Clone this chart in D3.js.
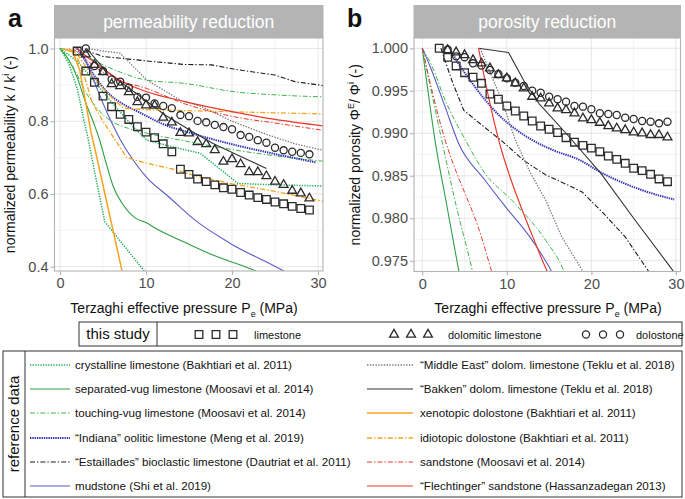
<!DOCTYPE html>
<html><head><meta charset="utf-8">
<script src="https://cdn.jsdelivr.net/npm/d3@7"></script>
<style>
html,body{margin:0;padding:0;background:#fff;}
svg{display:block;font-family:"Liberation Sans",Arial,sans-serif;}
</style></head><body>
<svg id="chart" width="685" height="499"></svg>
<script>
// ---------------- DATA ----------------
// this study, panel a (permeability k/k^i)
const pressLime = [2,3,4,5,6,7,8,9,10,11,12,13,14,15,16,17,18,19,20,21,22,23,24,25,26,27,28,29];
const permLime = [0.993,0.938,0.907,0.869,0.840,0.819,0.805,0.785,0.770,0.755,0.738,0.716,0.668,0.654,0.641,0.634,0.625,0.617,0.613,0.604,0.597,0.590,0.585,0.578,0.573,0.566,0.560,0.556];
const pressDolLime = [3,4,5,6,7,8,9,10,11,12,13,14,15,16,17,18,19,20,21,22,23,24,25,26,27,28,29];
const permDolLime = [0.984,0.955,0.935,0.902,0.897,0.880,0.853,0.844,0.843,0.810,0.797,0.768,0.767,0.743,0.737,0.721,0.689,0.696,0.682,0.660,0.660,0.649,0.634,0.625,0.609,0.602,0.588];
const pressDolo = [3,4,5,6,7,8,9,10,11,12,13,14,15,16,17,18,19,20,21,22,23,24,25,26,27,28,29];
const permDolo = [1.000,0.952,0.938,0.915,0.909,0.892,0.867,0.865,0.849,0.842,0.836,0.817,0.814,0.801,0.797,0.790,0.784,0.778,0.762,0.757,0.748,0.741,0.727,0.720,0.716,0.713,0.709];
// this study, panel b (porosity)
const poroLime = [1.0000,0.99894,0.99792,0.99713,0.99659,0.99588,0.99462,0.99400,0.99321,0.99262,0.99203,0.99144,0.99085,0.99047,0.99007,0.98948,0.98895,0.98857,0.98825,0.98783,0.98732,0.98693,0.98646,0.98588,0.98560,0.98517,0.98462,0.98430];
const poroDolLime = [0.9998,0.99953,0.99921,0.99862,0.99823,0.99765,0.99686,0.99647,0.99588,0.99529,0.99430,0.99411,0.99353,0.99294,0.99274,0.99235,0.99176,0.99156,0.99124,0.99085,0.99058,0.99038,0.99011,0.99000,0.98980,0.98980,0.98952];
const poroDolo = [0.99985,0.99905,0.99895,0.99823,0.99796,0.99745,0.99697,0.99647,0.99595,0.99556,0.99501,0.99477,0.99430,0.99400,0.99372,0.99321,0.99313,0.99282,0.99235,0.99227,0.99215,0.99183,0.99168,0.99144,0.99136,0.99117,0.99136];

// reference data, panel a: [pressure, k/k^i]
const aCrystalline1 = [[0,1],[1,0.96],[2,0.89],[2.8,0.80],[3.3,0.748],[4.2,0.64],[5.2,0.524],[7.2,0.465],[9.7,0.391],[10.5,0.37]];
const aCrystalline2 = [[0,1],[2,0.965],[4,0.91],[5.8,0.858],[8.5,0.785],[10.1,0.748],[13,0.73],[16.3,0.712],[20.7,0.629],[25,0.625],[30.6,0.622]];
const aSepVug = [[0,1],[1,0.97],[2,0.92],[3,0.85],[4,0.79],[4.65,0.745],[5.3,0.69],[6.2,0.62],[7.2,0.575],[8,0.55],[8.7,0.535],[10.1,0.52],[11,0.507],[14.7,0.465],[18,0.43],[22.5,0.391],[23.5,0.38]];
const aTouchVug1 = [[0,1],[2,0.99],[4.65,0.959],[7,0.935],[10.1,0.913],[14.5,0.904],[20.3,0.881],[25.4,0.872],[30.6,0.867]];
const aTouchVug2 = [[0,1],[1.5,0.95],[3,0.88],[4.5,0.83],[5.8,0.803],[8,0.78],[10.1,0.767],[14.7,0.745],[20.3,0.721],[25,0.705],[30.6,0.69]];
const aIndiana = [[2,1.0],[3,0.965],[4,0.925],[5.5,0.88],[7.2,0.849],[9.1,0.826],[12.2,0.79],[15.3,0.767],[20.3,0.735],[25,0.71],[29.7,0.687]];
const aEstaillades = [[3,0.995],[5,0.978],[10,0.966],[14.5,0.956],[17.6,0.955],[20.3,0.943],[25,0.927],[27.3,0.909],[30.6,0.898]];
const aMudstone = [[1.8,1.0],[2.5,0.99],[3.5,0.936],[5.6,0.817],[7,0.75],[8.6,0.69],[10.1,0.645],[12.6,0.593],[15.7,0.528],[19.8,0.464],[25.8,0.391],[26.6,0.38]];
const aMiddleEast = [[3,1.0],[7,0.987],[10.1,0.913],[14,0.858],[16.5,0.84],[20,0.80],[24.2,0.762],[27.3,0.738],[30.6,0.72]];
const aBakken = [[3.1,1.0],[5.2,0.941],[9.1,0.872],[12.2,0.817],[15.7,0.767],[17.8,0.739],[20.2,0.712],[24,0.67]];
const aXenotopic = [[0.3,1.0],[1.5,0.99],[2.3,0.94],[3,0.85],[3.6,0.77],[4.1,0.72],[5.6,0.56],[7.2,0.39],[7.5,0.36]];
const aIdiotopic1 = [[1,1.0],[2,0.985],[3,0.95],[4.65,0.90],[6,0.865],[7.4,0.836],[10,0.832],[20,0.826],[30.6,0.82]];
const aIdiotopic2 = [[1.5,1.0],[2.5,0.95],[3.7,0.854],[5,0.80],[6.8,0.735],[7.75,0.70],[10,0.685],[13.2,0.668],[16,0.648],[20,0.628],[25,0.607],[30.6,0.58]];
const aSandstone = [[1.5,1.0],[3,0.97],[5.8,0.922],[10.1,0.89],[14.5,0.848],[20.3,0.812],[25,0.795],[30.6,0.775]];
const aFlechtinger = [[2,1.0],[3,0.98],[4.7,0.95],[7,0.912],[10.1,0.881],[14.5,0.854],[20.3,0.825],[25,0.805],[30.6,0.787]];

// reference data, panel b: [pressure, phi/phi^i]
const bSepVug = [[0,1],[1.5,0.9892],[2.9,0.9815],[4.3,0.9739],[4.5,0.9728]];
const bTouchVug1 = [[0,1],[2.3,0.9892],[4,0.9815],[5.9,0.9739],[6.1,0.973]];
const bTouchVug2 = [[0,1],[1.1,0.998],[2.7,0.9939],[5.1,0.9892],[7.4,0.9853],[10.6,0.9821],[14.6,0.9774],[16.7,0.9739],[16.9,0.9734]];
const bIndiana = [[3.5,0.9995],[4.1,0.9985],[5.9,0.9959],[9.0,0.9922],[11,0.9905],[13,0.9892],[15.5,0.988],[18.5,0.9869],[21.3,0.9853],[26,0.9833],[29.8,0.9822]];
const bEstaillades = [[2.2,1.0],[3.5,0.9962],[4.9,0.9927],[7,0.991],[9.4,0.9891],[10.2,0.9884],[12,0.9868],[14.6,0.9851],[17,0.984],[18.9,0.9831],[21.5,0.9805],[24,0.9778],[26.8,0.9737]];
const bMudstone = [[0,1],[0.95,0.9978],[2.7,0.9931],[4.3,0.9888],[7.4,0.9845],[9.8,0.9814],[13,0.9774],[15.3,0.9737],[15.5,0.9733]];
const bMiddleEast = [[6.85,1.0],[8,0.9972],[9.4,0.9939],[11,0.9892],[12.7,0.9855],[14.6,0.9821],[16.5,0.9778],[18.9,0.9739],[19.1,0.9735]];
const bBakken = [[6.65,1.0],[10.2,0.9995],[12,0.9962],[13.8,0.9935],[17,0.99],[21.1,0.9853],[25,0.98],[29.6,0.9739],[29.8,0.9735]];
const bSandstone = [[0,1],[1.2,0.9948],[2.7,0.9892],[4,0.9855],[5.1,0.9828],[6.6,0.979],[8.2,0.9737],[8.4,0.973]];
const bFlechtinger = [[6.65,1.0],[7.5,0.9958],[8.3,0.9922],[9.2,0.9886],[10.5,0.9845],[12,0.9805],[13.4,0.977],[14.8,0.9737],[14.9,0.9735]];

// tick labels
const xTicks = [0,10,20,30];
const xMinor = [5,15,25];
const yTicksA = [0.4,0.6,0.8,1.0];
const yMinorA = [0.5,0.7,0.9];
const yTicksB = [0.975,0.980,0.985,0.990,0.995,1.000];
const yMinorB = [0.9775,0.9825,0.9875,0.9925,0.9975];

// legend
const legendKeys = ["crystalline","sepVug","touchVug","indiana","estaillades","mudstone","middleEast","bakken","xenotopic","idiotopic","sandstone","flechtinger"];
const legendLabels = ["crystalline limestone (Bakhtiari et al. 2011)","separated-vug limestone (Moosavi et al. 2014)","touching-vug limestone (Moosavi et al. 2014)","\u201cIndiana\u201d oolitic limestone (Meng et al. 2019)","\u201cEstaillades\u201d bioclastic limestone (Dautriat et al. 2011)","mudstone (Shi et al. 2019)","\u201cMiddle East\u201d dolom. limestone (Teklu et al. 2018)","\u201cBakken\u201d dolom. limestone (Teklu et al. 2018)","xenotopic dolostone (Bakhtiari et al. 2011)","idiotopic dolostone (Bakhtiari et al. 2011)","sandstone (Moosavi et al. 2014)","\u201cFlechtinger\u201d sandstone (Hassanzadegan 2013)"];
const studyLabels = ["limestone","dolomitic limestone","dolostone"];

// ---------------- STYLES ----------------
const DD = "5,2,1.4,2";
const styles = {
  crystalline:{color:"#1fae5c",dash:"1.3,1.3",w:1.5,smooth:false},
  sepVug:{color:"#2e9e45",dash:null,w:1.1,smooth:true},
  touchVug:{color:"#3bb54a",dash:DD,w:1,smooth:true},
  indiana:{color:"#3434b8",dash:"1.4,0.9",w:2,smooth:true},
  estaillades:{color:"#1a1a1a",dash:DD,w:1.1,smooth:false},
  mudstone:{color:"#5b5bc6",dash:null,w:1.1,smooth:true},
  middleEast:{color:"#7a7a7a",dash:"1.4,1.4",w:1.3,smooth:false},
  bakken:{color:"#333",dash:null,w:1.1,smooth:false},
  xenotopic:{color:"#f7a21b",dash:null,w:1.5,smooth:false},
  idiotopic:{color:"#f7a21b",dash:DD,w:1.3,smooth:false},
  sandstone:{color:"#e8392d",dash:DD,w:1,smooth:true},
  flechtinger:{color:"#e8392d",dash:null,w:1.2,smooth:true}
};

const linesA = [
  ["crystalline",aCrystalline1],["crystalline",aCrystalline2],["sepVug",aSepVug],
  ["touchVug",aTouchVug1],["touchVug",aTouchVug2],["indiana",aIndiana],
  ["estaillades",aEstaillades],["mudstone",aMudstone],["middleEast",aMiddleEast],
  ["bakken",aBakken],["xenotopic",aXenotopic],["idiotopic",aIdiotopic1],
  ["idiotopic",aIdiotopic2],["sandstone",aSandstone],["flechtinger",aFlechtinger]
];
const linesB = [
  ["sepVug",bSepVug],["touchVug",bTouchVug1],["touchVug",bTouchVug2],
  ["indiana",bIndiana],["estaillades",bEstaillades],["mudstone",bMudstone],
  ["middleEast",bMiddleEast],["bakken",bBakken],["sandstone",bSandstone],
  ["flechtinger",bFlechtinger]
];

// ---------------- DRAW ----------------
const svg = d3.select("#chart");
const GRID = "#e6e6e6", BORDER = "#b3b3b3", TICKTXT = "#4d4d4d";

const symSquare = d3.symbol().type(d3.symbolSquare).size(58);
const symTri = d3.symbol().type(d3.symbolTriangle).size(34);
const symCircle = d3.symbol().type(d3.symbolCircle).size(40);

function drawPanel(o) {
  const g = svg.append("g");
  const x = o.x, y = o.y;
  const [L,R] = x.range(); const [B,T] = y.range();
  g.append("rect").attr("x",L).attr("y",T).attr("width",R-L).attr("height",B-T).attr("fill","#fff");
  g.selectAll(null).data(xMinor).enter().append("line")
    .attr("x1",d=>x(d)).attr("x2",d=>x(d)).attr("y1",T).attr("y2",B)
    .attr("stroke","#f0f0f0").attr("stroke-width",0.8);
  g.selectAll(null).data(o.yMinor).enter().append("line")
    .attr("y1",d=>y(d)).attr("y2",d=>y(d)).attr("x1",L).attr("x2",R)
    .attr("stroke","#f0f0f0").attr("stroke-width",0.8);
  g.selectAll(null).data(xTicks).enter().append("line")
    .attr("x1",d=>x(d)).attr("x2",d=>x(d)).attr("y1",T).attr("y2",B)
    .attr("stroke",GRID).attr("stroke-width",1);
  g.selectAll(null).data(o.yTicks).enter().append("line")
    .attr("y1",d=>y(d)).attr("y2",d=>y(d)).attr("x1",L).attr("x2",R)
    .attr("stroke",GRID).attr("stroke-width",1);
  const cid = "clip"+o.id;
  svg.append("clipPath").attr("id",cid).append("rect")
    .attr("x",L).attr("y",T).attr("width",R-L).attr("height",B-T);
  const lg = g.append("g").attr("clip-path","url(#"+cid+")");
  const lineS = d3.line().x(d=>x(d[0])).y(d=>y(d[1])).curve(d3.curveMonotoneX);
  const lineL = d3.line().x(d=>x(d[0])).y(d=>y(d[1]));
  o.lines.forEach(([k,pts])=>{
    const s = styles[k];
    lg.append("path").attr("d",(s.smooth?lineS:lineL)(pts)).attr("fill","none")
      .attr("stroke",s.color).attr("stroke-width",s.w)
      .attr("stroke-dasharray",s.dash).attr("stroke-linejoin","round");
  });
  const mk = (press, vals, sym) => {
    lg.selectAll(null).data(press.map((p,i)=>[p,vals[i]])).enter().append("path")
      .attr("d",sym).attr("transform",d=>`translate(${x(d[0])},${y(d[1])})`)
      .attr("fill","none").attr("stroke","#2b2b2b").attr("stroke-width",1.3);
  };
  mk(pressLime, o.lime, symSquare);
  mk(pressDolLime, o.dolLime, symTri);
  mk(pressDolo, o.dolo, symCircle);
  g.append("rect").attr("x",L).attr("y",T).attr("width",R-L).attr("height",B-T)
    .attr("fill","none").attr("stroke",BORDER).attr("stroke-width",1.1);
  g.append("rect").attr("x",L-0.5).attr("y",5).attr("width",R-L+1).attr("height",T-5).attr("fill","#b4b4b4");
  g.append("text").attr("x",(L+R)/2).attr("y",27.5).attr("text-anchor","middle")
    .attr("fill","#fff").attr("font-size",17.5).text(o.strip);
  const ax = g.append("g").attr("transform",`translate(0,${B})`)
    .call(d3.axisBottom(x).tickValues(xTicks).tickSize(4).tickPadding(3).tickFormat(d3.format("d")));
  const ay = g.append("g").attr("transform",`translate(${L},0)`)
    .call(d3.axisLeft(y).tickValues(o.yTicks).tickSize(4).tickPadding(2).tickFormat(d3.format(o.fmt)));
  [ax,ay].forEach(a=>{
    a.select(".domain").remove();
    a.selectAll(".tick line").attr("stroke",BORDER).attr("stroke-width",1.1);
    a.selectAll(".tick text").attr("fill",TICKTXT).attr("font-size",14.5)
      .attr("font-family","'Liberation Sans',Arial,sans-serif");
  });
  const xt = g.append("text").attr("x",o.xTitleX).attr("y",313).attr("text-anchor","middle")
    .attr("font-size",14).attr("fill","#111");
  xt.append("tspan").text("Terzaghi effective pressure  P");
  xt.append("tspan").attr("font-size",9).attr("dy",4).text("e");
  xt.append("tspan").attr("dy",-4).text(" (MPa)");
  const yt = g.append("text").attr("transform",`translate(${o.yTitleX},${(T+B)/2}) rotate(-90)`)
    .attr("text-anchor","middle").attr("font-size",14).attr("fill","#111");
  o.yTitle(yt);
  g.append("text").attr("x",o.letterX).attr("y",27).attr("font-size",25).attr("font-weight","bold")
    .attr("fill","#111").text(o.letter);
}

const xA = d3.scaleLinear().domain([-0.64,30.58]).range([54.5,323]);
const yA = d3.scaleLinear().domain([0.3882,1.0289]).range([271,38]);
const xB = d3.scaleLinear().domain([-0.981,30.54]).range([414,680.5]);
const yB = d3.scaleLinear().domain([0.97373,1.00121]).range([271.5,38]);

drawPanel({id:"a",x:xA,y:yA,yTicks:yTicksA,yMinor:yMinorA,fmt:".1f",lines:linesA,
  lime:permLime,dolLime:permDolLime,dolo:permDolo,strip:"permeability reduction",
  xTitleX:184,yTitleX:15,letter:"a",letterX:8,
  yTitle:t=>{t.append("tspan").text("normalized permeability k / k");
    t.append("tspan").attr("font-size",9).attr("dy",-6).text("i");
    t.append("tspan").attr("dy",6).text(" (-)");}});
drawPanel({id:"b",x:xB,y:yB,yTicks:yTicksB,yMinor:yMinorB,fmt:".3f",lines:linesB,
  lime:poroLime,dolLime:poroDolLime,dolo:poroDolo,strip:"porosity reduction",
  xTitleX:548,yTitleX:360,letter:"b",letterX:347,
  yTitle:t=>{t.append("tspan").text("normalized porosity \u03A6");
    t.append("tspan").attr("font-size",9).attr("dy",-6).text("E");
    t.append("tspan").attr("dy",6).text("/ \u03A6");
    t.append("tspan").attr("font-size",9).attr("dy",-6).text("i");
    t.append("tspan").attr("dy",6).text(" (-)");}});

// ---------------- LEGEND: this study ----------------
const ls = svg.append("g");
ls.append("rect").attr("x",79).attr("y",322).attr("width",603).attr("height",24)
  .attr("fill","#fff").attr("stroke","#333").attr("stroke-width",1);
ls.append("line").attr("x1",157).attr("x2",157).attr("y1",322).attr("y2",346).attr("stroke","#333");
ls.append("text").attr("x",118).attr("y",339).attr("text-anchor","middle")
  .attr("font-family","'Liberation Sans Narrow','Liberation Sans',Arial").attr("font-size",15).attr("fill","#111").text("this study");
const studySyms = [symSquare, symTri, symCircle];
const studyX = [199, 394, 586];
const studyTextX = [254, 448, 636];
studyLabels.forEach((lab,i)=>{
  [0,1,2].forEach(j=>{
    ls.append("path").attr("d",studySyms[i]).attr("transform",`translate(${studyX[i]+j*17},334.5)`)
      .attr("fill","none").attr("stroke","#2b2b2b").attr("stroke-width",1.3);
  });
  ls.append("text").attr("x",studyTextX[i]).attr("y",338.5).attr("font-size",11).attr("fill","#111").text(lab);
});

// ---------------- LEGEND: reference data ----------------
const lr = svg.append("g");
lr.append("rect").attr("x",3).attr("y",351).attr("width",679).attr("height",146)
  .attr("fill","#fff").attr("stroke","#333").attr("stroke-width",1);
lr.append("line").attr("x1",25).attr("x2",25).attr("y1",351).attr("y2",497).attr("stroke","#333");
lr.append("text").attr("transform","translate(19,424) rotate(-90)").attr("text-anchor","middle")
  .attr("font-family","'Liberation Sans Narrow','Liberation Sans',Arial").attr("font-size",15).attr("fill","#111").text("reference data");
const rowY = [365,389,413,438,462,486];
legendKeys.forEach((k,i)=>{
  const col = i<6?0:1, r = i%6;
  const x0 = col===0?30:367, x1 = col===0?70:413, tx = col===0?75:420;
  const s = styles[k];
  lr.append("line").attr("x1",x0).attr("x2",x1).attr("y1",rowY[r]).attr("y2",rowY[r])
    .attr("stroke",s.color).attr("stroke-width",s.w).attr("stroke-dasharray",s.dash);
  lr.append("text").attr("x",tx).attr("y",rowY[r]+4).attr("font-size",11.6).attr("fill","#111").text(legendLabels[i]);
});
</script>
</body></html>
